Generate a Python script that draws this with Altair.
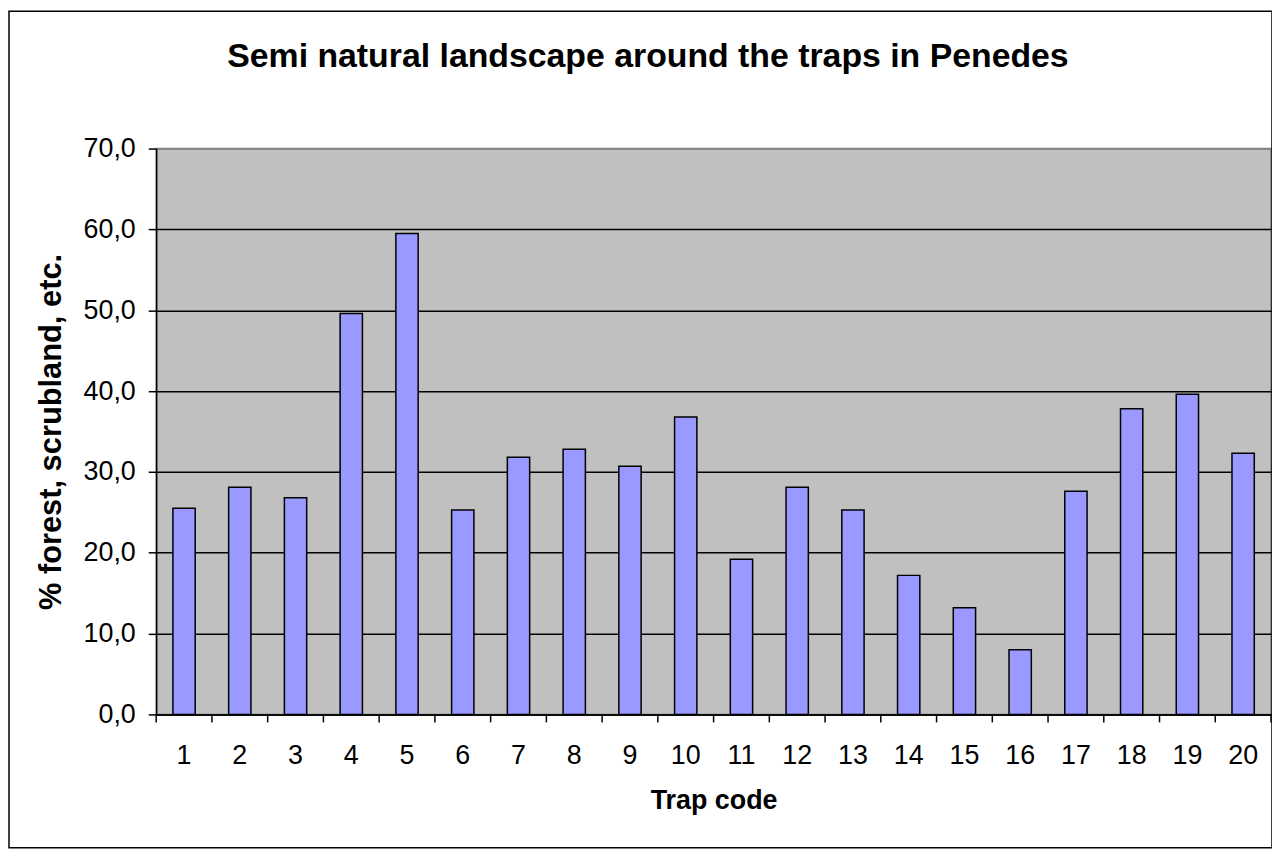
import altair as alt
import pandas as pd

traps = [str(i) for i in range(1, 21)]
values = [25.5, 28.1, 26.8, 49.6, 59.5, 25.3, 31.8, 32.8, 30.7, 36.8,
          19.2, 28.1, 25.3, 17.2, 13.2, 8.0, 27.6, 37.8, 39.6, 32.3]
y_ticks = [0, 10, 20, 30, 40, 50, 60, 70]
x_tick_edges = list(range(0, 21))  # category boundaries
title_text = "Semi natural landscape around the traps in Penedes"
x_title = "Trap code"
y_title = "% forest, scrubland, etc."

df = pd.DataFrame({"trap": traps, "value": values})
edges = pd.DataFrame({"edge": x_tick_edges})
FONT = "Liberation Sans"

W, H = 1121, 569

bars = alt.Chart(df).mark_bar(color="#9999FF", stroke="black", strokeWidth=1.5).encode(
    x=alt.X(
        "trap:O", sort=traps, title=x_title,
        scale=alt.Scale(paddingInner=0.6, paddingOuter=0.3),
        axis=alt.Axis(
            labelAngle=0, ticks=False, labelFont=FONT, labelFontSize=27,
            labelColor="black",
            domainColor="black", domainWidth=1.5, labelPadding=28,
            titleFont=FONT, titleFontSize=27, titleFontWeight="bold",
            titleColor="black", titlePadding=20, grid=False,
        ),
    ),
    y=alt.Y(
        "value:Q", title=y_title,
        scale=alt.Scale(domain=[0, 70], nice=False, zero=True),
        axis=alt.Axis(
            values=y_ticks, labelExpr="replace(format(datum.value, '.1f'), '.', ',')",
            labelFont=FONT, labelFontSize=27, labelColor="black", labelPadding=13,
            tickColor="black", tickSize=8, tickWidth=1.5,
            domainColor="black", domainWidth=1.5,
            grid=True, gridOpacity=1, gridWidth=1.5,
            gridColor=alt.condition("datum.value == 70", alt.value("#808080"), alt.value("black")),
            titleFont=FONT, titleFontSize=31, titleFontWeight="bold",
            titleColor="black", titlePadding=16,
        ),
    ),
)

ticks = alt.Chart(edges).mark_rule(color="black", strokeWidth=1.5).encode(
    x=alt.X("edge:Q", scale=alt.Scale(domain=[0, 20], nice=False, zero=False), axis=None),
    y=alt.value(H),
    y2=alt.value(H + 8),
)

title = alt.Chart(alt.Data(values=[{"t": title_text}])).mark_text(
    font=FONT, fontSize=34, fontWeight="bold", color="black",
    align="center", baseline="alphabetic",
).encode(text="t:N", x=alt.value(494.5), y=alt.value(-82))

border = alt.Chart(alt.Data(values=[{"b": 1}])).mark_rect(
    fillOpacity=0, stroke="black", strokeWidth=1.5
).encode(x=alt.value(-148), x2=alt.value(1122), y=alt.value(-138), y2=alt.value(703))

chart = alt.layer(border, bars, ticks, title).resolve_scale(x="independent").properties(
    width=W, height=H,
    padding={"left": 149, "top": 139, "right": 1, "bottom": 134},
    autosize="none", background="white",
).configure_view(fill="#C0C0C0", stroke="#808080", strokeWidth=1.5)

chart.save("out.html", embed_options={"renderer": "svg", "actions": False})
